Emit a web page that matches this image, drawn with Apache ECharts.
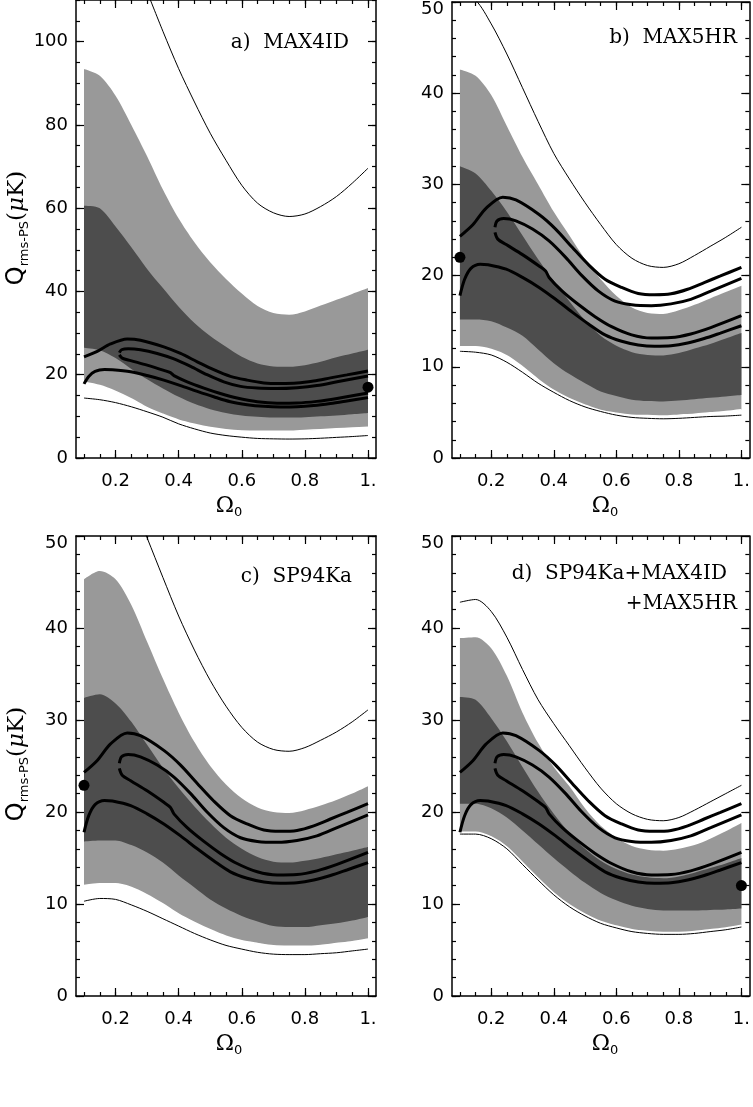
<!DOCTYPE html>
<html>
<head>
<meta charset="utf-8">
<script src="https://cdn.jsdelivr.net/npm/echarts@6/dist/echarts.min.js"></script>
<style>
html,body{margin:0;padding:0;background:#ffffff;}
#chart{width:753px;height:1107px;}
</style>
</head>
<body>
<div id="chart"></div>
<script>
// ---------- axes / ticks ----------
const OMEGA = [0.10,0.15,0.20,0.25,0.30,0.35,0.40,0.45,0.50,0.55,0.60,0.65,0.70,0.75,0.80,0.85,0.90,0.95,1.00];
const X_MAJOR_TICKS = [0.2,0.4,0.6,0.8,1.0];
const X_TICK_LABELS = ['0.2','0.4','0.6','0.8','1.'];
const X_MINOR_TICKS = [0.10,0.15,0.20,0.25,0.30,0.35,0.40,0.45,0.50,0.55,0.60,0.65,0.70,0.75,0.80,0.85,0.90,0.95,1.00];
const Y_MAJOR_A = [0,20,40,60,80,100];
const Y_MINOR_A = [0,5,10,15,20,25,30,35,40,45,50,55,60,65,70,75,80,85,90,95,100,105,110];
const Y_MAJOR_BCD = [0,10,20,30,40,50];
const Y_MINOR_BCD = [0,2,4,6,8,10,12,14,16,18,20,22,24,26,28,30,32,34,36,38,40,42,44,46,48,50];
const PANEL_TITLES = ['a)  MAX4ID','b)  MAX5HR','c)  SP94Ka','d)  SP94Ka+MAX4ID'];
const PANEL_TITLE_D2 = '+MAX5HR';

// ---------- panel a) MAX4ID ----------
const A_UPPER95 = [93.4,91.8,87.0,80.0,72.5,64.5,57.5,51.8,47.0,43.0,39.5,36.5,34.8,34.4,35.2,36.6,38.0,39.4,40.8];
const A_UPPER68 = [60.6,60.0,55.6,50.6,45.4,40.8,36.3,32.4,29.3,26.7,24.3,22.7,22.0,21.9,22.3,23.1,24.2,25.1,26.0];
const A_LOWER68 = [26.5,25.9,24.0,21.4,18.9,16.7,14.7,13.0,11.7,10.8,10.2,9.9,9.7,9.7,9.8,10.0,10.2,10.5,10.8];
const A_LOWER95 = [18.2,17.4,16.0,14.2,12.1,10.5,9.1,8.1,7.3,6.8,6.5,6.4,6.4,6.4,6.6,6.8,7.0,7.2,7.4];
const A_THIN_HI = [null,null,null,null,112.0,102.5,93.5,85.5,78.0,71.5,65.5,61.2,58.9,58.0,58.6,60.4,62.8,66.0,69.6];
const A_THIN_LO = [14.4,14.0,13.3,12.3,11.1,9.8,8.2,7.0,6.0,5.4,5.0,4.7,4.6,4.55,4.6,4.75,4.95,5.15,5.4];
const A_DOT = [1.0,17.0];

// ---------- panel b) MAX5HR ----------
const B_UPPER95 = [42.6,41.9,39.8,36.4,33.0,30.0,27.0,24.4,21.8,19.6,17.8,16.5,15.9,15.8,16.2,16.8,17.5,18.2,18.9];
const B_UPPER68 = [32.0,31.2,29.3,27.0,24.4,21.8,19.4,17.2,15.1,13.4,12.3,11.6,11.3,11.25,11.5,12.0,12.5,13.1,13.7];
const B_LOWER68 = [15.2,15.2,15.0,14.3,13.4,11.9,10.4,9.2,8.2,7.3,6.8,6.4,6.25,6.2,6.3,6.45,6.6,6.75,6.9];
const B_LOWER95 = [12.2,12.2,11.9,11.2,10.0,8.6,7.4,6.5,5.8,5.2,4.9,4.7,4.65,4.6,4.7,4.8,4.95,5.1,5.3];
const B_THIN_HI = [50.9,50.2,47.6,44.3,40.6,36.9,33.4,30.6,28.0,25.6,23.4,21.9,21.1,20.9,21.3,22.2,23.2,24.2,25.3];
const B_THIN_LO = [11.7,11.6,11.3,10.5,9.4,8.2,7.2,6.3,5.6,5.1,4.7,4.45,4.35,4.3,4.35,4.45,4.55,4.6,4.7];
const B_DOT = [0.1,22.0];

// ---------- panel c) SP94Ka ----------
const C_UPPER95 = [45.3,46.2,45.3,42.5,38.5,34.5,30.8,27.6,25.0,23.0,21.5,20.5,20.0,19.9,20.2,20.7,21.3,22.0,22.8];
const C_UPPER68 = [32.4,32.8,31.8,29.8,27.3,24.8,22.6,20.6,18.8,17.2,16.0,15.1,14.6,14.5,14.7,15.0,15.4,15.8,16.2];
const C_LOWER68 = [16.8,16.9,16.9,16.4,15.6,14.5,13.1,11.8,10.5,9.5,8.7,8.1,7.6,7.5,7.5,7.7,7.9,8.2,8.6];
const C_LOWER95 = [12.0,12.2,12.2,11.8,11.0,10.0,8.9,8.0,7.2,6.5,6.0,5.7,5.45,5.4,5.4,5.5,5.7,5.9,6.2];
const C_THIN_HI = [null,null,null,54.0,49.8,45.5,41.3,37.6,34.3,31.5,29.2,27.6,26.8,26.6,27.0,27.8,28.7,29.8,31.1];
const C_THIN_LO = [10.3,10.6,10.5,9.9,9.2,8.4,7.6,6.8,6.1,5.5,5.1,4.75,4.55,4.5,4.5,4.6,4.7,4.9,5.1];
const C_DOT = [0.1,22.9];

// ---------- panel d) SP94Ka+MAX4ID+MAX5HR ----------
const D_UPPER95 = [38.9,39.0,37.8,34.8,30.8,27.5,24.9,22.8,20.4,18.5,17.2,16.3,15.9,15.8,16.0,16.4,17.1,17.9,18.8];
const D_UPPER68 = [32.5,32.2,30.2,27.7,24.9,22.2,19.8,17.7,16.0,14.7,13.8,13.2,12.9,12.8,13.0,13.4,13.9,14.4,15.0];
const D_LOWER68 = [20.9,20.9,20.4,19.4,18.0,16.5,15.0,13.6,12.3,11.2,10.4,9.8,9.45,9.3,9.3,9.3,9.35,9.4,9.5];
const D_LOWER95 = [17.8,17.8,17.3,16.2,14.5,12.8,11.2,9.9,8.9,8.1,7.6,7.2,7.0,6.9,6.9,7.0,7.2,7.4,7.7];
const D_THIN_HI = [42.8,43.1,41.8,39.0,35.5,32.2,29.6,27.2,24.8,22.6,20.9,19.8,19.2,19.05,19.4,20.2,21.1,22.0,22.9];
const D_THIN_LO = [17.6,17.6,17.1,16.0,14.3,12.6,11.0,9.7,8.7,7.9,7.4,7.0,6.8,6.7,6.7,6.8,7.0,7.2,7.5];
const D_DOT = [1.0,12.0];

// ---------- likelihood contours (same in every panel) ----------
const CONTOUR_OUTER_HI = [[0.1,24.3],[0.142,25.6],[0.184,27.4],[0.237,28.6],[0.279,28.3],[0.353,26.7],[0.406,25.1],[0.459,23.1],[0.511,21.2],[0.564,19.6],[0.617,18.7],[0.67,18.04],[0.722,17.9],[0.775,18.0],[0.828,18.5],[0.881,19.24],[0.933,19.96],[1.0,20.9]];
const CONTOUR_OUTER_LO = [[0.1,17.8],[0.115,19.6],[0.135,20.8],[0.165,21.25],[0.19,21.2],[0.248,20.7],[0.3,19.8],[0.353,18.7],[0.406,17.4],[0.459,16.0],[0.511,14.7],[0.564,13.5],[0.617,12.8],[0.67,12.4],[0.722,12.25],[0.775,12.3],[0.828,12.6],[0.881,13.1],[0.933,13.7],[1.0,14.5]];
const CONTOUR_INNER_HI = [[0.212,25.3],[0.219,26.0],[0.24,26.25],[0.279,26.0],[0.332,25.1],[0.385,23.8],[0.438,22.0],[0.49,20.0],[0.543,18.3],[0.596,17.2],[0.649,16.8],[0.712,16.7],[0.775,16.9],[0.838,17.4],[0.902,18.3],[1.0,19.7]];
const CONTOUR_INNER_LO = [[0.212,24.75],[0.221,24.0],[0.248,23.4],[0.3,22.3],[0.353,21.05],[0.374,20.5],[0.385,19.8],[0.427,18.3],[0.48,16.8],[0.532,15.5],[0.585,14.4],[0.649,13.5],[0.712,13.15],[0.775,13.2],[0.838,13.6],[0.902,14.3],[1.0,15.6]];

// ---------- layout / style ----------
const X_MIN = 0.07465, X_MAX = 1.02535;
const LIGHT = '#999999', DARK = '#4d4d4d';
const GRIDS = [
  {left:76, top:0, width:300, height:458},
  {left:452, top:0, width:300, height:458},
  {left:76, top:536, width:300, height:460},
  {left:452, top:536, width:300, height:460}
];

const panels = [
  {u95:A_UPPER95,u68:A_UPPER68,l68:A_LOWER68,l95:A_LOWER95,hi:A_THIN_HI,lo:A_THIN_LO,dot:A_DOT,ymax:110,yMajor:Y_MAJOR_A,yMinor:Y_MINOR_A},
  {u95:B_UPPER95,u68:B_UPPER68,l68:B_LOWER68,l95:B_LOWER95,hi:B_THIN_HI,lo:B_THIN_LO,dot:B_DOT,ymax:50,yMajor:Y_MAJOR_BCD,yMinor:Y_MINOR_BCD},
  {u95:C_UPPER95,u68:C_UPPER68,l68:C_LOWER68,l95:C_LOWER95,hi:C_THIN_HI,lo:C_THIN_LO,dot:C_DOT,ymax:50,yMajor:Y_MAJOR_BCD,yMinor:Y_MINOR_BCD},
  {u95:D_UPPER95,u68:D_UPPER68,l68:D_LOWER68,l95:D_LOWER95,hi:D_THIN_HI,lo:D_THIN_LO,dot:D_DOT,ymax:50,yMajor:Y_MAJOR_BCD,yMinor:Y_MINOR_BCD}
];

function xLabel(v){
  for (let i=0;i<X_MAJOR_TICKS.length;i++){ if (Math.abs(v-X_MAJOR_TICKS[i])<1e-6) return X_TICK_LABELS[i]; }
  return '';
}
const LABEL_FONT = {fontFamily:'DejaVu Sans', fontSize:18, color:'#000'};

const xAxes = [], yAxes = [];
panels.forEach((p,gi)=>{
  ['bottom','top'].forEach(pos=>{
    [true,false].forEach(major=>{
      xAxes.push({
        type:'value', gridIndex:gi, min:X_MIN, max:X_MAX, position:pos, z:10,
        axisLine:{show:major, onZero:false, lineStyle:{color:'#000', width:1.5}},
        axisTick:{show:true, inside:true, length:major?8:4, customValues:major?X_MAJOR_TICKS:X_MINOR_TICKS, lineStyle:{color:'#000', width:1.2}},
        axisLabel:(major && pos==='bottom') ? Object.assign({show:true, customValues:X_MAJOR_TICKS, formatter:xLabel, margin:14}, LABEL_FONT) : {show:false},
        splitLine:{show:false}
      });
    });
  });
  ['left','right'].forEach(pos=>{
    [true,false].forEach(major=>{
      yAxes.push({
        type:'value', gridIndex:gi, min:0, max:p.ymax, position:pos, z:10,
        axisLine:{show:major, onZero:false, lineStyle:{color:'#000', width:1.5}},
        axisTick:{show:true, inside:true, length:major?8:4, customValues:major?p.yMajor:p.yMinor, lineStyle:{color:'#000', width:1.2}},
        axisLabel:(major && pos==='left') ? Object.assign({show:true, customValues:p.yMajor, margin:8,
            formatter:(v)=> (v===p.ymax ? '{t|'+v+'}' : String(v)),
            rich:{t:{fontFamily:'DejaVu Sans', fontSize:18, color:'#000', padding:[14,0,0,0]}}}, LABEL_FONT) : {show:false},
        splitLine:{show:false}
      });
    });
  });
});

const series = [];
panels.forEach((p,gi)=>{
  const ax = {xAxisIndex:gi*4, yAxisIndex:gi*4};
  const pairs = vals => OMEGA.map((x,i)=>[x, vals[i]]);
  // band data: value first so that the stack is applied to the y (value) dimension
  const yx = vals => OMEGA.map((x,i)=>[vals[i], x]);
  const diff = (hi,lo) => hi.map((v,i)=>v-lo[i]);
  const bandBase = (lo,stack) => Object.assign({type:'line', data:yx(lo), encode:{x:1,y:0}, stack:stack, smooth:0.3,
      symbol:'none', showSymbol:false, lineStyle:{width:0, opacity:0}, silent:true, z:2}, ax);
  const bandTop = (hi,lo,color,stack) => Object.assign({type:'line', data:yx(diff(hi,lo)), encode:{x:1,y:0}, stack:stack, smooth:0.3,
      symbol:'none', showSymbol:false, lineStyle:{width:0, opacity:0}, areaStyle:{color:color, opacity:1}, silent:true, z:2}, ax);
  series.push(bandBase(p.l95, 'light'+gi));
  series.push(bandTop(p.u95, p.l95, LIGHT, 'light'+gi));
  series.push(bandBase(p.l68, 'dark'+gi));
  series.push(bandTop(p.u68, p.l68, DARK, 'dark'+gi));
  const line = (data,w,color) => Object.assign({type:'line', data:data, smooth:0.3, symbol:'none', showSymbol:false,
      lineStyle:{color:color||'#000', width:w}, silent:true, z:3}, ax);
  series.push(line(pairs(p.l95),1.5,'#ffffff'));
  series.push(line(pairs(p.hi),1));
  series.push(line(pairs(p.lo),1));
  [CONTOUR_OUTER_HI,CONTOUR_OUTER_LO,CONTOUR_INNER_HI,CONTOUR_INNER_LO].forEach(c=>series.push(line(c,3)));
  series.push(Object.assign({type:'scatter', data:[p.dot], symbol:'circle', symbolSize:11, itemStyle:{color:'#000', opacity:1}, silent:true, z:4}, ax));
});

const TITLE_FONT = {fontFamily:'DejaVu Serif', fontSize:20, fill:'#000', align:'right', verticalAlign:'middle'};
const graphic = [
  {type:'text', x:349, y:43, z:20, style:Object.assign({text:PANEL_TITLES[0]}, TITLE_FONT)},
  {type:'text', x:737, y:38, z:20, style:Object.assign({text:PANEL_TITLES[1]}, TITLE_FONT)},
  {type:'text', x:352, y:577, z:20, style:Object.assign({text:PANEL_TITLES[2]}, TITLE_FONT)},
  {type:'text', x:727, y:574, z:20, style:Object.assign({text:PANEL_TITLES[3]}, TITLE_FONT)},
  {type:'text', x:737, y:604, z:20, style:Object.assign({text:PANEL_TITLE_D2}, TITLE_FONT)}
];
const yNameRich = {
  q:{fontFamily:'DejaVu Sans', fontSize:24, lineHeight:26},
  s:{fontFamily:'DejaVu Sans', fontSize:13, lineHeight:14, padding:[16,0,0,0]},
  u:{fontFamily:'DejaVu Serif', fontSize:23, lineHeight:26},
  m:{fontFamily:'DejaVu Serif', fontSize:23, lineHeight:26, fontStyle:'italic'}
};
[[17,228],[17,764]].forEach(([x,y])=>{
  graphic.push({type:'text', x:x, y:y, rotation:Math.PI/2, z:20,
    style:{text:'{q|Q}{s|rms-PS}{u|(}{m|μ}{u|K)}', rich:yNameRich, fill:'#000', align:'center', verticalAlign:'middle'}});
});
const xNameRich = {
  o:{fontFamily:'DejaVu Serif', fontSize:22, lineHeight:24},
  s:{fontFamily:'DejaVu Sans', fontSize:13, lineHeight:14, padding:[14,0,0,0]}
};
[[229,506],[605,506],[229,1044],[605,1044]].forEach(([x,y])=>{
  graphic.push({type:'text', x:x, y:y, z:20,
    style:{text:'{o|Ω}{s|0}', rich:xNameRich, fill:'#000', align:'center', verticalAlign:'middle'}});
});

const chart = echarts.init(document.getElementById('chart'), null, {renderer:'canvas'});
chart.setOption({
  animation:false,
  backgroundColor:'#ffffff',
  grid:GRIDS,
  xAxis:xAxes,
  yAxis:yAxes,
  series:series,
  graphic:graphic
});
</script>
</body>
</html>
